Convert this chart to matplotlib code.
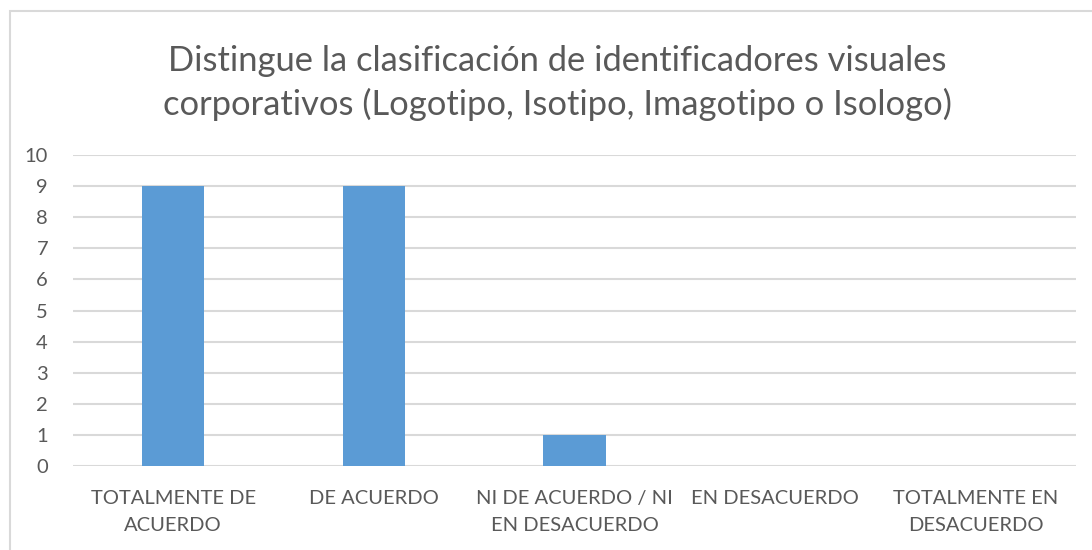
import matplotlib
matplotlib.use('Agg')
import matplotlib.pyplot as plt
from matplotlib.patches import Rectangle

categorias = ['TOTALMENTE DE\nACUERDO', 'DE ACUERDO', 'NI DE ACUERDO / NI\nEN DESACUERDO',
              'EN DESACUERDO', 'TOTALMENTE EN\nDESACUERDO']
valores = [9, 9, 1, 0, 0]
titulo = 'Distingue la clasificación de identificadores visuales\ncorporativos (Logotipo, Isotipo, Imagotipo o Isologo)'

plt.rcParams['font.family'] = ['Lato', 'DejaVu Sans']
gris = '#595959'

fig = plt.figure(figsize=(10.92, 5.5), dpi=100)
ax = fig.add_axes([73/1092, 84/550, 1003/1092, 311/550])

x = range(len(categorias))
ax.bar(x, valores, width=0.31, color='#5B9BD5', zorder=3)
ax.set_xlim(-0.5, len(categorias) - 0.5)
ax.set_ylim(0, 10)
ax.set_yticks(range(0, 11))
ax.set_xticks(list(x))
ax.set_xticklabels(categorias, fontsize=14.5, color=gris, linespacing=1.75)
ax.tick_params(axis='y', labelsize=14.5, labelcolor=gris, length=0, pad=18)
ax.tick_params(axis='x', length=0, pad=17)
ax.grid(axis='y', color='#D9D9D9', linewidth=1.5, zorder=0)
for s in ax.spines.values():
    s.set_visible(False)

fig.text(557/1092, 1 - 83/550, titulo, ha='center', va='center', fontsize=24.8,
         color=gris, linespacing=1.4)

# borde del area del grafico
fig.patches.append(Rectangle((10/1092, -0.1), 1.2, 1 - 11/550 + 0.1,
                             transform=fig.transFigure, fill=False,
                             edgecolor='#D9D9D9', linewidth=1.5))

fig.savefig('out.png', dpi=100)
